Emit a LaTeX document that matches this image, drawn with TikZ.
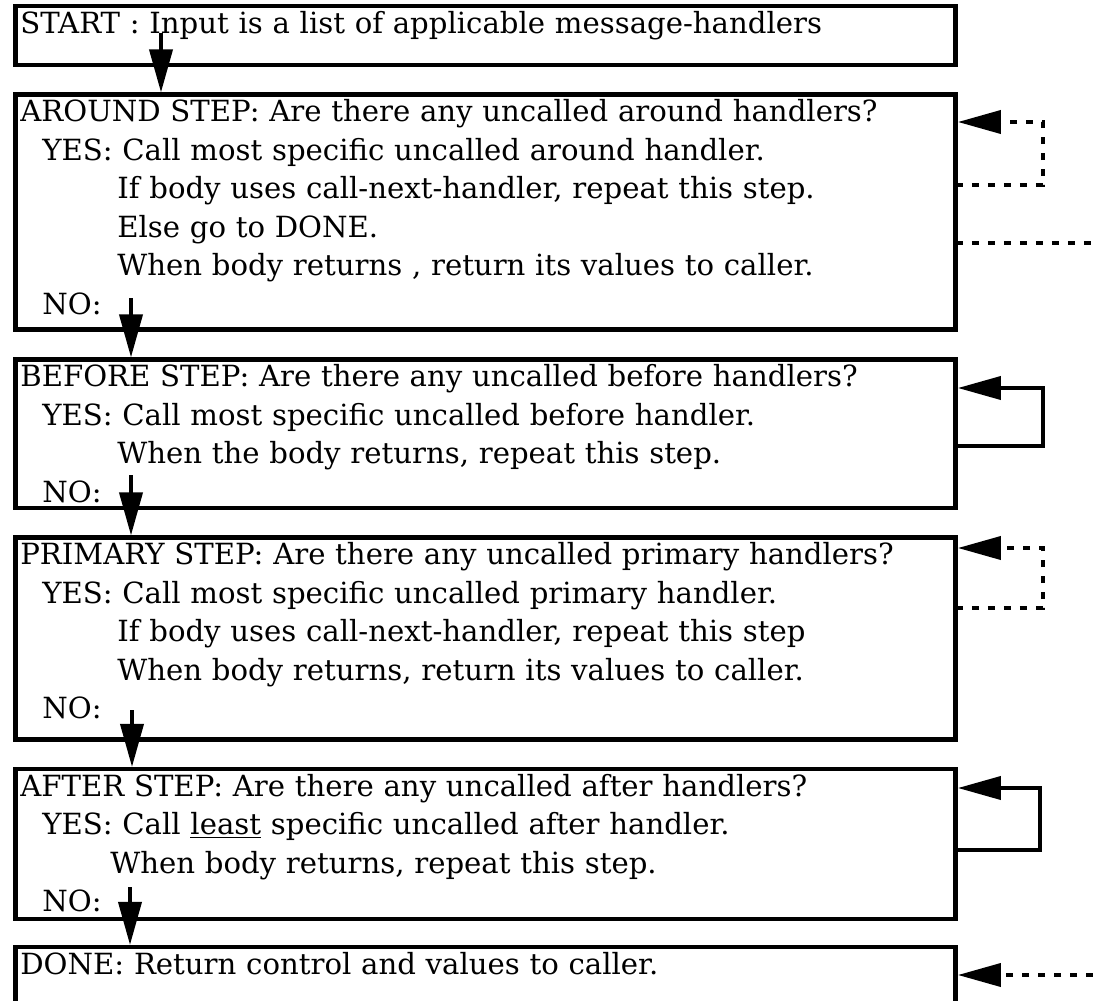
\documentclass[tikz,border=0pt]{standalone}
\usepackage{fontspec}
\setmainfont{DejaVu Serif}
\usetikzlibrary{arrows.meta}

\begin{document}
\begin{tikzpicture}[x=0.02cm,y=-0.02cm,>={Triangle[length=0.86cm,width=0.46cm]},
  stepbox/.style={draw,line width=2.7pt,outer sep=0pt,inner sep=0pt,anchor=north west,minimum width=18.81cm},
  steptext/.style={anchor=north west,inner sep=0pt,align=left,text width=18.4cm,font=\fontsize{16.6}{21.9}\selectfont},
  flow/.style={->,line width=2.2pt,shorten >=1.2pt},
  dotline/.style={line width=2.2pt,dash pattern=on 0.15cm off 0.17cm}]
\clip (0,0) rectangle (1093,1001);
% boxes
\node[stepbox,minimum height=1.18cm] (start) at (15.5,6) {};
\node[stepbox,minimum height=4.70cm] (around) at (15.5,94.5) {};
\node[stepbox,minimum height=2.97cm] (before) at (15.5,359.5) {};
\node[stepbox,minimum height=4.04cm] (primary) at (15.5,537.5) {};
\node[stepbox,minimum height=3.00cm] (after) at (15.5,769) {};
\node[stepbox,minimum height=1.18cm] (done) at (15.5,947) {};
% texts
\node[steptext] (startT) at (20,6) {\strut START : Input is a list of applicable message-handlers};
\node[steptext] (aroundT) at (20,94.5) {\strut AROUND STEP: Are there any uncalled around handlers?\\
  \hspace*{0.44cm}YES: Call most specific uncalled around handler.\\
  \hspace*{1.94cm}If body uses call-next-handler, repeat this step.\\
  \hspace*{1.94cm}Else go to DONE.\\
  \hspace*{1.94cm}When body returns , return its values to caller.\\
  \hspace*{0.44cm}NO:};
\node[steptext] (beforeT) at (20,359.5) {\strut BEFORE STEP: Are there any uncalled before handlers?\\
  \hspace*{0.44cm}YES: Call most specific uncalled before handler.\\
  \hspace*{1.94cm}When the body returns, repeat this step.\\
  \hspace*{0.44cm}NO:};
\node[steptext] (primaryT) at (20,537.5) {\strut PRIMARY STEP: Are there any uncalled primary handlers?\\
  \hspace*{0.44cm}YES: Call most specific uncalled primary handler.\\
  \hspace*{1.94cm}If body uses call-next-handler, repeat this step\\
  \hspace*{1.94cm}When body returns, return its values to caller.\\
  \hspace*{0.44cm}NO:};
\node[steptext] (afterT) at (20,769) {\strut AFTER STEP: Are there any uncalled after handlers?\\
  \hspace*{0.44cm}YES: Call \underline{least} specific uncalled after handler.\\
  \hspace*{1.8cm}When body returns, repeat this step.\\
  \hspace*{0.44cm}NO:};
\node[steptext] (doneT) at (20,947) {\strut DONE: Return control and values to caller.};
% downward flow
\coordinate (s1) at (161,33);
\coordinate (a1) at (131,298);
\coordinate (b1) at (131,475);
\coordinate (p1) at (132,710);
\coordinate (f1) at (130,887);
\draw[flow] (s1) -- (around.north -| s1);
\draw[flow] (a1) -- (before.north -| a1);
\draw[flow] (b1) -- (primary.north -| b1);
\draw[flow] (p1) -- (after.north -| p1);
\draw[flow] (f1) -- (done.north -| f1);
% loops on the right
\draw[flow,dotline] (around.east |- 0,185) -| (1043,122) -- (around.east |- 0,122);
\coordinate (aroundOut) at (1093,243);
\draw[dotline] (around.east |- aroundOut) -- (aroundOut);
\draw[flow] (before.east |- 0,446) -| (1043,388) -- (before.east |- 0,388);
\draw[flow,dotline] (primary.east |- 0,608) -| (1043,548) -- (primary.east |- 0,548);
\draw[flow] (after.east |- 0,850) -| (1040,788) -- (after.east |- 0,788);
\coordinate (doneIn) at (1093,975);
\draw[flow,dotline] (doneIn) -- (done.east |- doneIn);
\end{tikzpicture}
\end{document}
